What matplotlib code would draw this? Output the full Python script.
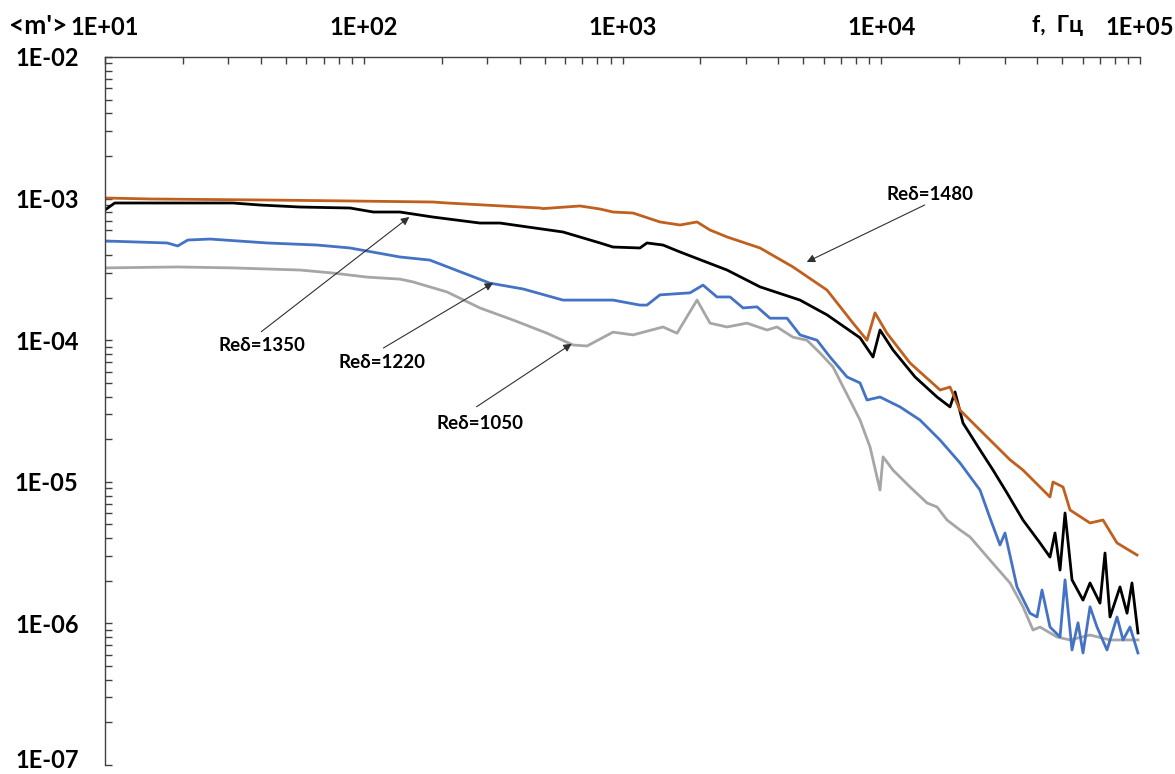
import matplotlib
matplotlib.use("Agg")
import matplotlib.pyplot as plt
from matplotlib.ticker import LogLocator, FixedLocator, FuncFormatter, NullFormatter

# ---------------- data ----------------
f_1480 = [10, 14.9, 42.3, 88.5, 185, 210, 480, 493, 685, 819, 919, 1098, 1396, 1668,
          1941, 2179, 2535, 3400, 4560, 6171, 7780, 8810, 9459, 10520, 12920, 16880,
          18440, 20150, 24080, 31450, 35300, 44890, 46100, 50410, 53650, 64100, 71950,
          81500, 97400]
m_1480 = [1.01e-3, 9.94e-4, 9.77e-4, 9.62e-4, 9.46e-4, 9.31e-4, 8.58e-4, 8.50e-4,
          8.87e-4, 8.44e-4, 8.04e-4, 7.91e-4, 6.84e-4, 6.51e-4, 6.84e-4, 6.00e-4,
          5.36e-4, 4.48e-4, 3.29e-4, 2.26e-4, 1.32e-4, 1.00e-4, 1.56e-4, 1.12e-4,
          6.90e-5, 4.45e-5, 4.67e-5, 3.21e-5, 2.32e-5, 1.43e-5, 1.21e-5, 7.81e-6,
          9.97e-6, 9.19e-6, 6.32e-6, 5.12e-6, 5.37e-6, 3.70e-6, 3.04e-6]

f_1350 = [10, 10.9, 23.3, 31.2, 39.7, 56.7, 88.5, 109, 138, 185, 281, 336, 589, 819,
          919, 1168, 1243, 1434, 1668, 1874, 2535, 3400, 4853, 6171, 8280, 9293, 9890,
          11100, 13510, 16430, 18440, 19280, 20700, 24080, 27040, 30620, 35300, 41070,
          44890, 46940, 49080, 51320, 54610, 60220, 64100, 70050, 73240, 76580, 83700,
          89100, 93100, 98200]
m_1350 = [8.31e-4, 9.31e-4, 9.31e-4, 9.31e-4, 9.01e-4, 8.72e-4, 8.58e-4, 8.04e-4,
          8.04e-4, 7.41e-4, 6.72e-4, 6.72e-4, 5.81e-4, 4.86e-4, 4.55e-4, 4.48e-4,
          4.86e-4, 4.70e-4, 4.20e-4, 3.87e-4, 3.13e-4, 2.38e-4, 1.92e-4, 1.51e-4,
          1.04e-4, 7.61e-5, 1.18e-4, 8.53e-5, 5.50e-5, 3.97e-5, 3.38e-5, 4.31e-5,
          2.60e-5, 1.68e-5, 1.21e-5, 8.34e-6, 5.37e-6, 3.70e-6, 2.94e-6, 4.35e-6,
          2.38e-6, 6.02e-6, 2.03e-6, 1.46e-6, 1.93e-6, 1.39e-6, 3.14e-6, 1.11e-6,
          1.81e-6, 1.18e-6, 1.93e-6, 8.56e-7]

f_1220 = [10, 17.4, 19.1, 20.9, 25.5, 42.3, 66.0, 88.5, 138, 180, 307, 413, 589, 919,
          1168, 1243, 1396, 1824, 2047, 2318, 2604, 2923, 3310, 3715, 4323, 4853, 5646,
          6338, 7375, 8280, 8810, 9890, 11820, 14120, 16880, 20150, 24080, 26320, 28770,
          30080, 33470, 37570, 40000, 41810, 44890, 49080, 51320, 54610, 57600, 60220,
          64100, 68200, 74560, 81500, 86000, 91500, 98200]
m_1220 = [5.02e-4, 4.86e-4, 4.63e-4, 5.10e-4, 5.18e-4, 4.86e-4, 4.70e-4, 4.48e-4,
          3.87e-4, 3.68e-4, 2.53e-4, 2.30e-4, 1.92e-4, 1.92e-4, 1.77e-4, 1.77e-4,
          2.09e-4, 2.16e-4, 2.45e-4, 2.02e-4, 2.02e-4, 1.69e-4, 1.72e-4, 1.43e-4,
          1.43e-4, 1.09e-4, 1.00e-4, 7.61e-5, 5.50e-5, 4.99e-5, 3.78e-5, 3.97e-5,
          3.38e-5, 2.73e-5, 1.97e-5, 1.36e-5, 8.75e-6, 5.55e-6, 3.58e-6, 4.35e-6,
          1.81e-6, 1.18e-6, 1.11e-6, 1.72e-6, 9.43e-7, 8.02e-7, 2.03e-6, 6.49e-7,
          1.01e-6, 6.18e-7, 1.31e-6, 9.43e-7, 6.49e-7, 1.11e-6, 7.64e-7, 9.43e-7,
          6.18e-7]

f_1050 = [10, 19.0, 31.2, 56.7, 76.0, 103, 138, 155, 210, 281, 377, 511, 644, 729, 919,
          1098, 1434, 1624, 1941, 2179, 2535, 3028, 3619, 3955, 4560, 5164, 5800, 6510,
          8280, 9050, 9890, 10160, 11100, 12920, 15030, 16430, 17960, 20150, 22030,
          26320, 31450, 35300, 38590, 41070, 47780, 53650, 64100, 76580, 98200]
m_1050 = [3.24e-4, 3.29e-4, 3.24e-4, 3.13e-4, 2.98e-4, 2.79e-4, 2.70e-4, 2.58e-4,
          2.19e-4, 1.69e-4, 1.39e-4, 1.12e-4, 9.25e-5, 9.10e-5, 1.14e-4, 1.09e-4,
          1.24e-4, 1.12e-4, 1.92e-4, 1.32e-4, 1.24e-4, 1.32e-4, 1.18e-4, 1.24e-4,
          1.05e-4, 1.00e-4, 8.12e-5, 6.47e-5, 2.73e-5, 1.76e-5, 8.75e-6, 1.50e-5,
          1.21e-5, 9.19e-6, 7.09e-6, 6.64e-6, 5.37e-6, 4.57e-6, 4.08e-6, 2.80e-6,
          1.93e-6, 1.31e-6, 8.98e-7, 9.43e-7, 8.02e-7, 7.64e-7, 8.28e-7, 7.64e-7,
          7.64e-7]

labels = ["Re\u03b4=1480", "Re\u03b4=1350", "Re\u03b4=1220", "Re\u03b4=1050"]
x_ticks = [1e1, 1e2, 1e3, 1e4, 1e5]
y_ticks = [1e-7, 1e-6, 1e-5, 1e-4, 1e-3, 1e-2]
x_tick_labels = ["1E+01", "1E+02", "1E+03", "1E+04", "1E+05"]
y_tick_labels = ["1E-07", "1E-06", "1E-05", "1E-04", "1E-03", "1E-02"]

# ---------------- style ----------------
FAM = ["Lato", "Open Sans", "DejaVu Sans"]
plt.rcParams["font.family"] = FAM
plt.rcParams["font.weight"] = "bold"

fig = plt.figure(figsize=(11.75, 7.74), dpi=100)
ax = fig.add_axes([105 / 1175, 9 / 774, 1035 / 1175, 708 / 774])

c_orange = "#C0601E"
c_black = "#000000"
c_blue = "#4472C4"
c_gray = "#A6A6A6"

LW = 2.0
ax.plot(f_1050, m_1050, color=c_gray, lw=LW)
ax.plot(f_1220, m_1220, color=c_blue, lw=LW)
ax.plot(f_1350, m_1350, color=c_black, lw=LW)
ax.plot(f_1480, m_1480, color=c_orange, lw=LW)

ax.set_xscale("log")
ax.set_yscale("log")
ax.set_xlim(10, 1e5)
ax.set_ylim(1e-7, 1e-2)

ax.xaxis.tick_top()
ax.xaxis.set_major_locator(FixedLocator(x_ticks))
ax.xaxis.set_major_formatter(FuncFormatter(lambda v, p: x_tick_labels[x_ticks.index(v)] if v in x_ticks else ""))
ax.xaxis.set_minor_locator(LogLocator(base=10, subs=range(2, 10), numticks=20))
ax.xaxis.set_minor_formatter(NullFormatter())
ax.yaxis.set_major_locator(FixedLocator(y_ticks))
# the lowest label is drawn separately so it stays inside the figure
ax.yaxis.set_major_formatter(FuncFormatter(
    lambda v, p: y_tick_labels[y_ticks.index(v)] if (v in y_ticks and v != y_ticks[0]) else ""))
ax.yaxis.set_minor_locator(LogLocator(base=10, subs=range(2, 10), numticks=20))
ax.yaxis.set_minor_formatter(NullFormatter())

ax.tick_params(axis="both", which="both", direction="in", length=5, width=1,
               color="#404040")
ax.tick_params(axis="x", which="major", pad=13, labelsize=17)
ax.tick_params(axis="y", which="major", pad=19, labelsize=17)
for lab in ax.get_xticklabels() + ax.get_yticklabels():
    lab.set_fontweight("bold")
for lab in ax.get_yticklabels():
    lab.set_verticalalignment("center_baseline")

fig.text(79 / 1175, 1 - 760 / 774, y_tick_labels[0], ha="right", va="center",
         fontsize=17, fontweight="bold")

for s in ["right", "bottom"]:
    ax.spines[s].set_visible(False)
for s in ["left", "top"]:
    ax.spines[s].set_color("#404040")
    ax.spines[s].set_linewidth(1.0)

# axis titles
fig.text(38 / 1175, 1 - 26 / 774, "<m'>", ha="center", va="center",
         fontsize=19, fontweight="bold")
fig.text(1058 / 1175, 1 - 25 / 774, "f,  \u0413\u0446", ha="center", va="center",
         fontsize=16.5, fontweight="bold", family=FAM)

# annotations (axes-fraction positions)
ann = [
    (labels[0], (0.797, 0.806), (0.792, 0.791), (0.678, 0.7105)),
    (labels[1], (0.152, 0.593), (0.151, 0.612), (0.294, 0.774)),
    (labels[2], (0.268, 0.568), (0.269, 0.589), (0.375, 0.681)),
    (labels[3], (0.362, 0.483), (0.359, 0.506), (0.451, 0.595)),
]
for text, tpos, tail, head in ann:
    ax.text(tpos[0], tpos[1], text, transform=ax.transAxes, ha="center",
            va="center", fontsize=13.5, fontweight="bold", family=FAM)
    ax.annotate("", xy=head, xycoords="axes fraction", xytext=tail,
                textcoords="axes fraction",
                arrowprops=dict(arrowstyle="-|>", color="#303030", lw=0.8,
                                mutation_scale=12, shrinkA=0, shrinkB=0))

fig.savefig("out.png", dpi=100)
